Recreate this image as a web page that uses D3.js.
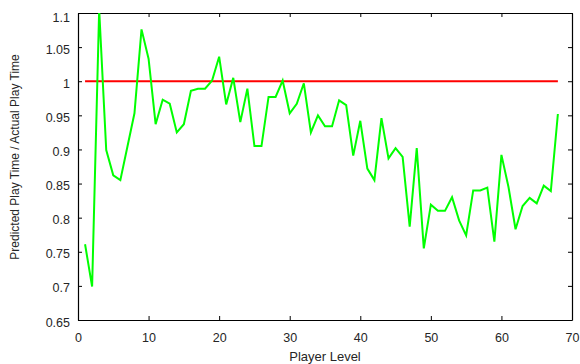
<!DOCTYPE html>
<html>
<head>
<meta charset="utf-8">
<script src="https://cdn.jsdelivr.net/npm/d3@7"></script>
<style>
  body { margin: 0; background: #fff; }
  text { font-family: "Liberation Sans", Arial, sans-serif; }
</style>
</head>
<body>
<div id="chart"></div>
<script>
// Player levels and the predicted / actual ratio for each
const levels = d3.range(1, 69);
const ratio = [
  0.761, 0.699, 1.105, 0.899, 0.862, 0.855, 0.904, 0.953, 1.076, 1.033,
  0.937, 0.973, 0.967, 0.925, 0.937, 0.986, 0.989, 0.989, 1.001, 1.036,
  0.966, 1.005, 0.940, 0.989, 0.905, 0.905, 0.977, 0.977, 1.001, 0.953,
  0.967, 0.997, 0.925, 0.950, 0.934, 0.934, 0.972, 0.965, 0.891, 0.942,
  0.872, 0.855, 0.946, 0.887, 0.902, 0.889, 0.787, 0.902, 0.755, 0.819,
  0.810, 0.810, 0.830, 0.796, 0.774, 0.840, 0.840, 0.844, 0.765, 0.892,
  0.845, 0.783, 0.817, 0.829, 0.821, 0.847, 0.839, 0.952
];
// Reference line at a ratio of 1
const refLine = [{ level: 1, value: 1 }, { level: 68, value: 1 }];

const xTicks = [0, 10, 20, 30, 40, 50, 60, 70];
const yTicks = [0.65, 0.7, 0.75, 0.8, 0.85, 0.9, 0.95, 1, 1.05, 1.1];

const width = 580;
const height = 364;
const margin = { top: 13, right: 8, bottom: 44, left: 78 };

const svg = d3.select('#chart')
  .append('svg')
  .attr('width', width)
  .attr('height', height);

const xScale = d3.scaleLinear()
  .domain([0, 70])
  .range([margin.left, width - margin.right]);

const yScale = d3.scaleLinear()
  .domain([0.65, 1.1])
  .range([height - margin.bottom, margin.top]);

svg.append('clipPath')
  .attr('id', 'plot-clip')
  .append('rect')
  .attr('x', margin.left)
  .attr('y', margin.top)
  .attr('width', xScale(70) - margin.left)
  .attr('height', yScale(0.65) - margin.top);

// axes, ticks pointing inward on all four sides
const fmt = (d) => d3.format('')(+d.toFixed(2));

svg.append('g')
  .attr('transform', `translate(0,${yScale(0.65)})`)
  .call(d3.axisBottom(xScale).tickValues(xTicks).tickSizeInner(-4).tickSizeOuter(0).tickPadding(13));

svg.append('g')
  .attr('transform', `translate(0,${yScale(1.1)})`)
  .call(d3.axisTop(xScale).tickValues(xTicks).tickSizeInner(-4).tickSizeOuter(0).tickFormat(''));

const yAxisG = svg.append('g')
  .attr('transform', `translate(${xScale(0)},0)`)
  .call(d3.axisLeft(yScale).tickValues(yTicks).tickSizeInner(-4).tickSizeOuter(0).tickPadding(8).tickFormat(fmt));

svg.append('g')
  .attr('transform', `translate(${xScale(70)},0)`)
  .call(d3.axisRight(yScale).tickValues(yTicks).tickSizeInner(-4).tickSizeOuter(0).tickFormat(''));

svg.selectAll('.domain').attr('stroke', '#000').attr('stroke-width', 1.2);
svg.selectAll('.tick line').attr('stroke', '#000');
svg.selectAll('.tick text')
  .attr('font-size', 12.5)
  .attr('fill', '#262626')
  .style('font-family', '"Liberation Sans", Arial, sans-serif');

// y labels sit a little below their ticks
yAxisG.selectAll('.tick text')
  .attr('y', (d) => (d === 1.1 ? 4 : 2));

// ratio = 1 line
svg.append('path')
  .datum(refLine)
  .attr('fill', 'none')
  .attr('stroke', '#ff0000')
  .attr('stroke-width', 2)
  .attr('d', d3.line().x((d) => xScale(d.level)).y((d) => yScale(d.value)));

// ratio per level
svg.append('path')
  .datum(levels.map((l, i) => ({ level: l, value: ratio[i] })))
  .attr('clip-path', 'url(#plot-clip)')
  .attr('fill', 'none')
  .attr('stroke', '#00ff00')
  .attr('stroke-width', 2)
  .attr('stroke-linejoin', 'miter')
  .attr('d', d3.line().x((d) => xScale(d.level)).y((d) => yScale(d.value)));

// axis labels
svg.append('text')
  .attr('x', (xScale(0) + xScale(70)) / 2)
  .attr('y', 361)
  .attr('text-anchor', 'middle')
  .attr('font-size', 13)
  .attr('fill', '#262626')
  .text('Player Level');

svg.append('text')
  .attr('transform', 'translate(19,157) rotate(-90)')
  .attr('text-anchor', 'middle')
  .attr('font-size', 12)
  .attr('fill', '#262626')
  .text('Predicted Play Time / Actual Play Time');
</script>
</body>
</html>
